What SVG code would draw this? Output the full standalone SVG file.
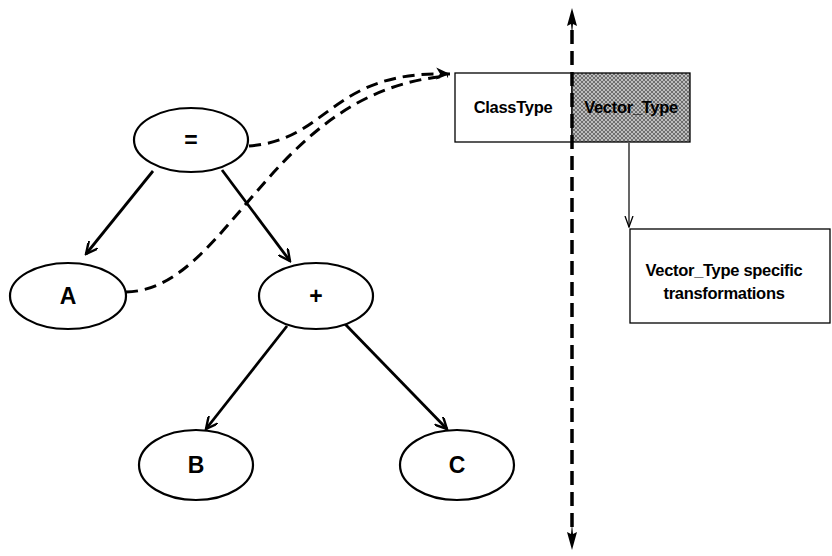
<svg xmlns="http://www.w3.org/2000/svg" width="832" height="556" viewBox="0 0 832 556">
  <defs>
    <style>
      .node ellipse { fill: #fff; stroke: #000; stroke-width: 2.2; }
      .lbl { font-family: "Liberation Sans", Arial, sans-serif; font-weight: 700; font-size: 23px; text-anchor: middle; fill: #000; }
      .small { font-family: "Liberation Sans", Arial, sans-serif; font-weight: 700; font-size: 16.5px; text-anchor: middle; fill: #000; letter-spacing: -0.3px; }
      .box { fill: #fff; stroke: #000; stroke-width: 1.3; }
      .tree { fill: none; stroke: #000; stroke-width: 2.8; marker-end: url(#solidArrow); }
      .dash { fill: none; stroke: #000; stroke-width: 3; stroke-dasharray: 12 7; }
    </style>
    <marker id="solidArrow" markerWidth="14" markerHeight="12" refX="12" refY="6" orient="auto" markerUnits="userSpaceOnUse">
      <path d="M0,0 L12,6 L0,12" fill="none" stroke="#000" stroke-width="2.4"/>
    </marker>
    <marker id="dashArrow" markerWidth="16" markerHeight="14" refX="14" refY="7" orient="auto" markerUnits="userSpaceOnUse">
      <path d="M0,1 L14,7 L0,13 L4,7 Z" fill="#000"/>
    </marker>
    <marker id="thinV" markerWidth="12" markerHeight="10" refX="11" refY="5" orient="auto" markerUnits="userSpaceOnUse">
      <path d="M0,1 L11,5 L0,9" fill="none" stroke="#000" stroke-width="1.3"/>
    </marker>
    <pattern id="hatch" width="4" height="4" patternUnits="userSpaceOnUse">
      <rect width="4" height="4" fill="#bdbdbd"/>
      <path d="M0,0 L4,4 M4,0 L0,4" stroke="#5a5a5a" stroke-width="0.8"/>
    </pattern>
  </defs>

  <!-- tree edges and dashed links -->
  <g id="connectors">
    <path class="tree" d="M153,171 L86,254"/>
    <path class="tree" d="M222,170 L290,261"/>
    <path class="tree" d="M287,326 L206,429"/>
    <path class="tree" d="M345,324 L447,429"/>
    <path class="dash" d="M249,146 C330,140 330,70 450,74" marker-end="url(#dashArrow)"/>
    <path class="dash" d="M126,292 C230,290 270,90 448,76"/>
    <line x1="629" y1="143" x2="629" y2="227" stroke="#000" stroke-width="1.2" marker-end="url(#thinV)"/>
  </g>

  <g id="node-eq" class="node">
    <ellipse cx="191" cy="140" rx="57" ry="32"/>
    <text class="lbl" x="191" y="148">=</text>
  </g>
  <g id="node-A" class="node">
    <ellipse cx="68" cy="296" rx="58" ry="33"/>
    <text class="lbl" x="68" y="304">A</text>
  </g>
  <g id="node-plus" class="node">
    <ellipse cx="316" cy="296" rx="57" ry="33"/>
    <text class="lbl" x="316" y="304">+</text>
  </g>
  <g id="node-B" class="node">
    <ellipse cx="196" cy="465" rx="57" ry="35"/>
    <text class="lbl" x="196" y="473">B</text>
  </g>
  <g id="node-C" class="node">
    <ellipse cx="457" cy="465" rx="57" ry="35"/>
    <text class="lbl" x="457" y="473">C</text>
  </g>

  <g id="classtype">
    <rect class="box" x="455" y="73" width="117" height="69"/>
    <text class="small" x="513" y="113">ClassType</text>
  </g>
  <g id="vectortype">
    <rect x="572" y="73" width="118" height="69" fill="url(#hatch)" stroke="#000" stroke-width="1.3"/>
    <text class="small" x="631" y="113">Vector_Type</text>
  </g>
  <g id="transformations">
    <rect class="box" x="630" y="229" width="200" height="94"/>
    <text class="small" x="724" y="276">Vector_Type specific</text>
    <text class="small" x="724" y="299">transformations</text>
  </g>

  <!-- boundary line with heads at both ends -->
  <g id="boundary">
    <line x1="572" y1="30" x2="572" y2="528" stroke="#000" stroke-width="3.5" stroke-dasharray="14 7"/>
    <path d="M572,8 L577,26 L573,24 L572,34 L571,24 L567,26 Z" fill="#000"/>
    <path d="M572,550 L577,532 L573,534 L572,524 L571,534 L567,532 Z" fill="#000"/>
  </g>
</svg>
